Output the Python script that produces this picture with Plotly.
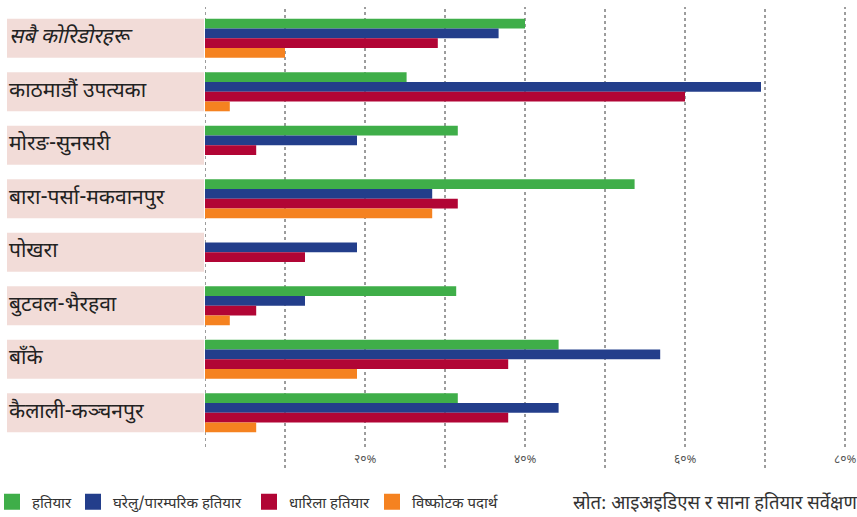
import plotly.graph_objects as go

categories = ["सबै कोरिडोरहरू", "काठमाडौं उपत्यका", "मोरङ-सुनसरी", "बारा-पर्सा-मकवानपुर",
              "पोखरा", "बुटवल-भैरहवा", "बाँके", "कैलाली-कञ्चनपुर"]
series_names = ["हतियार", "घरेलु/पारम्परिक हतियार", "धारिला हतियार", "विष्फोटक पदार्थ"]
weapons = [40.0, 25.2, 31.6, 53.7, 0, 31.4, 44.2, 31.6]
homemade = [36.7, 69.5, 19.0, 28.4, 19.0, 12.5, 56.9, 44.2]
sharp = [29.1, 60.0, 6.4, 31.6, 12.5, 6.4, 37.9, 37.9]
explosive = [10.0, 3.1, 0, 28.4, 0, 3.1, 19.0, 6.4]
series_values = [weapons, homemade, sharp, explosive]
colors = ["#3fae49", "#233e8b", "#b10535", "#f58220"]
grid_vals = [0, 10, 20, 30, 40, 50, 60, 70, 80]
tick_vals = [20, 40, 60, 80]
tick_text = ["२०%", "४०%", "६०%", "८०%"]
source_text = "स्रोत: आइअइडिएस र साना हतियार सर्वेक्षण"

W, H = 857, 517
FONT = "Noto Sans Devanagari, Lohit Devanagari, Mukta, Noto Sans, sans-serif"

fig = go.Figure()

# pink label boxes as bars on a side axis
fig.add_trace(go.Bar(y=categories, x=[1] * len(categories), orientation="h",
                     xaxis="x2", yaxis="y", marker=dict(color="#f2dcd8", line=dict(width=0)),
                     showlegend=False, hoverinfo="skip"))

legend_ids = ["legend", "legend2", "legend3", "legend4"]
for name, vals, col in zip(series_names, series_values, colors):
    fig.add_trace(go.Bar(y=categories, x=vals, orientation="h", name=name,
                         marker=dict(color=col, line=dict(width=0)),
                         xaxis="x", yaxis="y", showlegend=False))
# legend entries (square swatches)
for name, col, lg in zip(series_names, colors, legend_ids):
    fig.add_trace(go.Scatter(x=[None], y=[None], mode="markers", name=name,
                             marker=dict(symbol="square", size=16, color=col),
                             xaxis="x", yaxis="y", legend=lg, hoverinfo="skip"))

top, bottom = 7, 468
plot_h = bottom - top
c0, step = 38.3, 53.49
y_top = (top - c0) / step
y_bot = (bottom - c0) / step

x_left = 205
px_per = 8.0
x_max = (W - x_left) / px_per

shapes = []
for g in grid_vals:
    y0 = (bottom - 447) / plot_h if g in tick_vals or g == 0 else 0
    shapes.append(dict(type="line", xref="x", yref="paper", x0=g, x1=g, y0=y0, y1=1,
                       line=dict(color="#3a3a3a", width=1, dash="dot"), layer="below"))

annotations = []
for i, c in enumerate(categories):
    txt = f"<i>{c}</i>" if i == 0 else c
    annotations.append(dict(xref="x2", yref="y", x=0, y=c, text=txt, showarrow=False,
                            xanchor="left", yanchor="middle",
                            font=dict(family=FONT, size=21, color="#222222")))
for v, t in zip(tick_vals, tick_text):
    annotations.append(dict(xref="x", yref="paper", x=v, y=(bottom - 460) / plot_h, text=t,
                            showarrow=False, xanchor="center", yanchor="middle",
                            font=dict(family=FONT, size=12, color="#555555")))
leg_y = (bottom - 502) / plot_h
annotations.append(dict(xref="paper", yref="paper", x=571 / W, y=(bottom - 504) / plot_h,
                        text=source_text, showarrow=False, xanchor="left", yanchor="middle",
                        font=dict(family=FONT, size=18.5, color="#333333")))

legend_x = [-8, 73, 249, 372]
leg_layout = {}
for lg, lx in zip(legend_ids, legend_x):
    leg_layout[lg] = dict(x=lx / W, y=leg_y, xanchor="left", yanchor="middle",
                          orientation="h", bgcolor="rgba(0,0,0,0)", borderwidth=0,
                          font=dict(family=FONT, size=15, color="#333333"),
                          itemclick=False, itemdoubleclick=False)

fig.update_layout(
    width=W, height=H,
    margin=dict(l=0, r=0, t=top, b=H - bottom, autoexpand=False),
    paper_bgcolor="white", plot_bgcolor="white",
    barmode="group", bargap=0.271, bargroupgap=0,
    xaxis=dict(domain=[x_left / W, 1], range=[0, x_max], showgrid=False, zeroline=False,
               showticklabels=False, ticks="", showline=False, fixedrange=True),
    xaxis2=dict(domain=[7 / W, 204 / W], range=[0, 1], showgrid=False, zeroline=False,
                showticklabels=False, ticks="", showline=False, fixedrange=True),
    yaxis=dict(range=[y_bot, y_top], showgrid=False, zeroline=False, showticklabels=False,
               ticks="", showline=False, fixedrange=True, type="category"),
    shapes=shapes, annotations=annotations,
    showlegend=True,
    **leg_layout,
)

fig.write_html("out.html", config={"displayModeBar": False},
               post_script="document.body.style.margin='0px';document.body.style.overflow='hidden';")
